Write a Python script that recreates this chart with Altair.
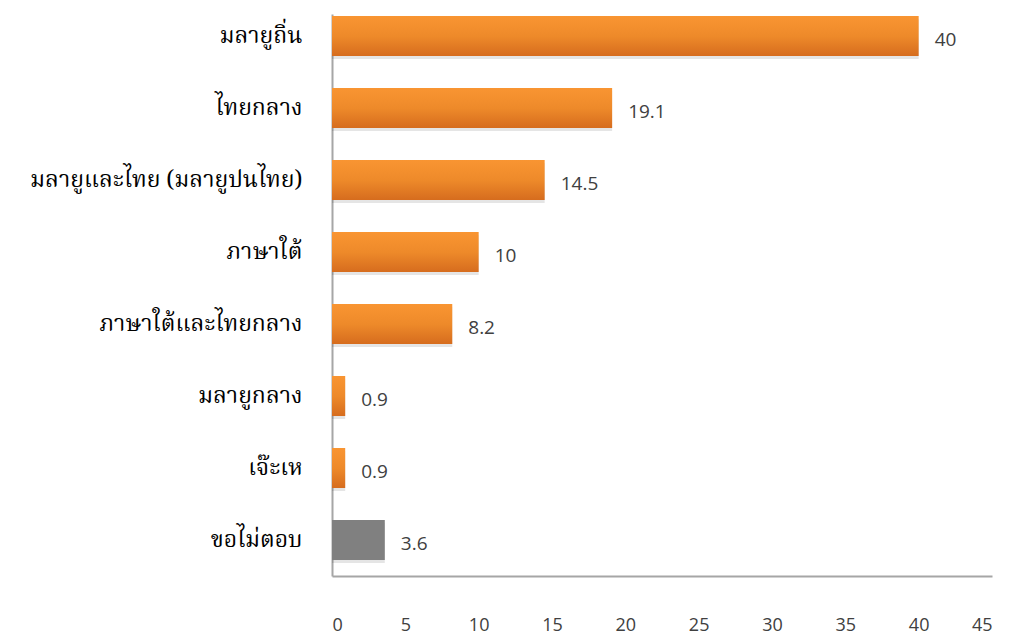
import altair as alt
import pandas as pd

categories = ["มลายูถิ่น", "ไทยกลาง", "มลายูและไทย (มลายูปนไทย)", "ภาษาใต้",
              "ภาษาใต้และไทยกลาง", "มลายูกลาง", "เจ๊ะเห", "ขอไม่ตอบ"]
values = [40, 19.1, 14.5, 10, 8.2, 0.9, 0.9, 3.6]
groups = ["a", "a", "a", "a", "a", "a", "a", "b"]
x_ticks = [0, 5, 10, 15, 20, 25, 30, 35, 40, 45]

df = pd.DataFrame({"cat": categories, "val": values, "grp": groups})

yscale = alt.Scale(domain=categories, paddingInner=0.444, paddingOuter=0.125, align=0.111)
xscale = alt.Scale(domain=[0, 45], nice=False)

ybase = alt.Y("cat:N", sort=categories, scale=yscale,
              axis=alt.Axis(title=None,
                            labelFont="Noto Serif Thai, Noto Sans Thai Looped, Noto Sans Thai, DejaVu Sans, serif",
                            labelFontSize=23, labelColor="#000000", labelPadding=30,
                            labelLimit=0, ticks=False, domainColor="#a6a6a6", domainWidth=2,
                            labelFontWeight="normal"))
xbase = alt.X("val:Q", scale=xscale,
              axis=alt.Axis(title=None, values=x_ticks, grid=False, ticks=False,
                            labelFont="Open Sans", labelFontSize=18, labelColor="#404040",
                            labelPadding=40, domainColor="#a6a6a6", domainWidth=2))

base = alt.Chart(df)

shadow = base.mark_bar(color="#000000", opacity=0.10, yOffset=3, x2Offset=3).encode(
    x=xbase, y=ybase)

orange = base.transform_filter(alt.datum.grp == "a").mark_bar(
    color=alt.Gradient(gradient="linear",
                       stops=[alt.GradientStop(color="#F99532", offset=0),
                              alt.GradientStop(color="#EE8A2A", offset=0.5),
                              alt.GradientStop(color="#D66C1E", offset=1)],
                       x1=0, y1=0, x2=0, y2=1)).encode(x=xbase, y=ybase)

gray = base.transform_filter(alt.datum.grp == "b").mark_bar(color="#808080").encode(
    x=xbase, y=ybase)

labels = base.mark_text(align="left", baseline="middle", dx=16, dy=4, fontSize=19,
                        font="Open Sans", color="#404040").encode(
    x=xbase, y=ybase, text=alt.Text("val:Q"))

chart = alt.layer(shadow, orange, gray, labels).properties(
    width=660, height=562,
    autosize=alt.AutoSizeParams(type="none"),
    padding={"left": 324, "top": 6, "right": 9, "bottom": 60},
).configure_view(stroke=None).configure_axis(domainCap="butt")

chart.save("out.html", embed_options={"renderer": "svg", "actions": False})
